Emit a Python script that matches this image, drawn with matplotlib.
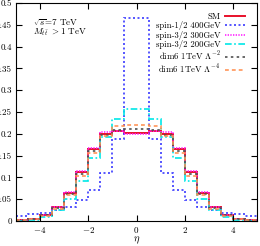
import numpy as np
import matplotlib
matplotlib.use("Agg")
from matplotlib import pyplot as plt
from matplotlib.ticker import MultipleLocator, FuncFormatter

# eta bins, width 0.5 from -5 to 5
edges = np.linspace(-5, 5, 21)

# half distributions, from the central bin outwards (mirrored below)
sm_half = [0.202, 0.206, 0.200, 0.166, 0.112, 0.065, 0.031, 0.013, 0.004, 0.002]
spin12_400_half = [0.466, 0.187, 0.109, 0.070, 0.048, 0.033, 0.025, 0.018, 0.016, 0.012]
spin32_300_half = [0.199, 0.207, 0.203, 0.168, 0.114, 0.066, 0.031, 0.013, 0.004, 0.002]
spin32_200_half = [0.256, 0.234, 0.193, 0.144, 0.092, 0.050, 0.025, 0.009, 0.003, 0.001]
dim6_l2_half = [0.211, 0.208, 0.198, 0.160, 0.108, 0.062, 0.030, 0.013, 0.004, 0.002]
dim6_l4_half = [0.220, 0.218, 0.195, 0.156, 0.104, 0.059, 0.028, 0.012, 0.004, 0.002]

labels = ['SM', 'spin-1/2 400GeV', 'spin-3/2 300GeV', 'spin-3/2 200GeV',
          r'dim6 1TeV $\Lambda^{-2}$', r'dim6 1TeV $\Lambda^{-4}$']


def mirror(half):
    return np.array(half[::-1] + half)


plt.rcParams['font.family'] = 'cmr10'
plt.rcParams['mathtext.fontset'] = 'cm'
plt.rcParams['axes.formatter.use_mathtext'] = True

fig = plt.figure(figsize=(2.6, 2.46), dpi=100)
ax = fig.add_axes([16 / 260, 25 / 246, 241 / 260, 218 / 246])

series = [sm_half, spin12_400_half, spin32_300_half, spin32_200_half, dim6_l2_half, dim6_l4_half]
styles = [
    dict(color='#e8102a', lw=1.4, ls='-'),
    dict(color='#3a3aff', lw=1.2, ls=(0, (1.2, 1.5))),
    dict(color='#ff22ff', lw=1.2, ls=(0, (0.8, 0.8))),
    dict(color='#00e8e8', lw=1.2, ls=(0, (4, 1.5, 1, 1.5))),
    dict(color='#505050', lw=1.2, ls=(0, (1.5, 2))),
    dict(color='#ff8c4a', lw=1.1, ls=(0, (2.5, 2))),
]
for vals, lab, st in zip(series, labels, styles):
    ax.stairs(mirror(vals), edges, label=lab, baseline=None, **st)

ax.set_xlim(-5, 5)
ax.set_ylim(0, 0.5)
ax.xaxis.set_major_locator(MultipleLocator(2))
ax.yaxis.set_major_locator(MultipleLocator(0.05))
ax.yaxis.set_major_formatter(FuncFormatter(lambda v, p: '0' if abs(v) < 1e-9 else ('%g' % round(v, 2))))
ax.tick_params(direction='in', top=True, right=True, length=4, width=0.8, labelsize=6.5, pad=3)
for s in ax.spines.values():
    s.set_linewidth(0.8)

ax.set_xlabel(r'$\eta$', fontsize=7.5, labelpad=0)

ax.text(-4.3, 0.455, r'$\sqrt{s}$=7 TeV', fontsize=6.5, va='center')
ax.text(-4.3, 0.432, r'$M_{t\bar{t}}$ $>$1 TeV', fontsize=6.5, va='center')

ax.legend(loc='upper right', frameon=False, markerfirst=False, fontsize=6.3,
          handlelength=2.3, handletextpad=0.5, labelspacing=0.05,
          borderaxespad=0.3, bbox_to_anchor=(0.975, 0.985))

fig.savefig('out.png', dpi=100)
